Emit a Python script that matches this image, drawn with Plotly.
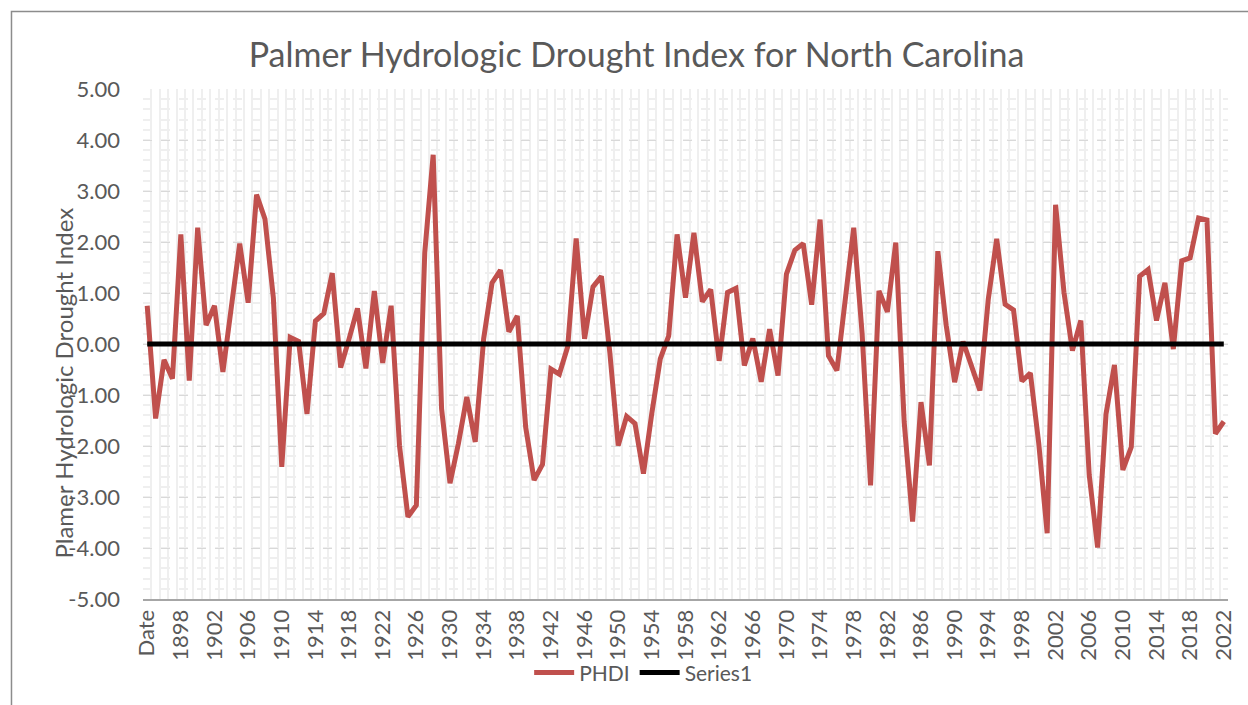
import plotly.graph_objects as go

# Categories: header cell "Date" followed by the years 1895-2022
categories = ["Date"] + [str(y) for y in range(1895, 2023)]

# Palmer Hydrologic Drought Index values
phdi = [
    0.75, -1.46, -0.31, -0.68, 2.15, -0.72, 2.28, 0.37, 0.75, -0.55,
    0.72, 1.97, 0.81, 2.93, 2.45, 0.90, -2.41, 0.13, 0.05, -1.37,
    0.45, 0.60, 1.39, -0.46, 0.10, 0.70, -0.48, 1.04, -0.37, 0.75,
    -2.00, -3.39, -3.16, 1.79, 3.71, -1.27, -2.73, -1.95, -1.04, -1.92,
    0.10, 1.20, 1.45, 0.24, 0.55, -1.63, -2.67, -2.36, -0.49, -0.59,
    -0.05, 2.07, 0.10, 1.12, 1.33, -0.16, -1.99, -1.42, -1.56, -2.54,
    -1.35, -0.29, 0.16, 2.15, 0.91, 2.18, 0.83, 1.07, -0.33, 1.01,
    1.09, -0.42, 0.11, -0.74, 0.29, -0.62, 1.37, 1.84, 1.97, 0.77,
    2.44, -0.23, -0.52, 0.88, 2.28, 0.20, -2.77, 1.04, 0.63, 1.99,
    -1.53, -3.48, -1.14, -2.38, 1.82, 0.36, -0.75, 0.05, -0.42, -0.91,
    0.88, 2.06, 0.78, 0.67, -0.73, -0.57, -1.95, -3.71, 2.73, 1.01,
    -0.13, 0.46, -2.57, -3.99, -1.37, -0.41, -2.47, -2.02, 1.33, 1.46,
    0.46, 1.20, -0.10, 1.63, 1.69, 2.47, 2.43, -1.76, -1.52,
]

# Reference series (zero line)
series1 = [0.0] * len(categories)

# Tick labels: every fourth category is labelled
tick_text = [c if i % 4 == 0 else "" for i, c in enumerate(categories)]

# Y-axis ticks (with ASCII hyphen minus, as in the original)
y_ticks = [-5, -4, -3, -2, -1, 0, 1, 2, 3, 4, 5]
y_tick_text = ["-5.00", "-4.00", "-3.00", "-2.00", "-1.00", "0.00",
               "1.00", "2.00", "3.00", "4.00", "5.00"]

FONT = "Lato, Liberation Sans, sans-serif"
TEXT = "#595959"

fig = go.Figure()
fig.add_trace(go.Scatter(
    x=categories, y=phdi, name="PHDI", mode="lines",
    line=dict(color="#C0504D", width=5),
))
fig.add_trace(go.Scatter(
    x=categories, y=series1, name="Series1", mode="lines",
    line=dict(color="#000000", width=5),
))

fig.update_layout(
    width=1248, height=705,
    margin=dict(l=143, r=16, t=89, b=103),
    paper_bgcolor="white", plot_bgcolor="white",
    font=dict(family=FONT, color=TEXT, size=22),
    title=dict(
        text="Palmer Hydrologic Drought Index for North Carolina",
        x=0.51, xanchor="center", y=1 - 55 / 705, yanchor="middle",
        font=dict(size=34, color=TEXT, family=FONT),
    ),
    showlegend=True,
    legend=dict(
        orientation="h", x=(645 - 143) / 1089, xanchor="center",
        y=-0.145, yanchor="middle",
        font=dict(size=21, color=TEXT), bgcolor="rgba(0,0,0,0)",
        itemwidth=40, tracegroupgap=0,
    ),
    xaxis=dict(
        type="category",
        tickmode="array", tickvals=categories, ticktext=tick_text,
        tickson="boundaries", ticks="", tickangle=-90,
        showgrid=True, gridcolor="#EFEFEF", gridwidth=2,
        showline=True, linecolor="#A6A6A6", linewidth=2,
        tickfont=dict(size=22, color=TEXT),
        range=[-0.5, len(categories) - 0.5],
        zeroline=False,
    ),
    yaxis=dict(
        range=[-5, 5], tickmode="array", tickvals=y_ticks, ticktext=y_tick_text,
        showgrid=True, gridcolor="#D9D9D9", gridwidth=1, griddash="dash",
        minor=dict(tickmode="linear", tick0=0, dtick=0.2, showgrid=True,
                   gridcolor="#EFEFEF", gridwidth=2),
        showline=False, zeroline=False, ticks="",
        ticklabelstandoff=22,
        tickfont=dict(size=22, color=TEXT),
    ),
    annotations=[dict(
        text="Plamer Hydrologic Drought Index",
        xref="paper", yref="paper", x=(63 - 143) / 1089, y=(602 - 385) / 513,
        xanchor="center", yanchor="middle", textangle=-90, showarrow=False,
        font=dict(size=24, color=TEXT, family=FONT),
    )],
    shapes=[dict(
        type="rect", xref="paper", yref="paper",
        x0=(11 - 143) / 1089, x1=1.2, y0=-0.5, y1=(602 - 11) / 513,
        line=dict(color="#8C8C8C", width=1.5), fillcolor="rgba(0,0,0,0)",
        layer="below",
    )],
)

fig.write_html("out.html", config={"displayModeBar": False},
               post_script="document.body.style.margin='0px';")
